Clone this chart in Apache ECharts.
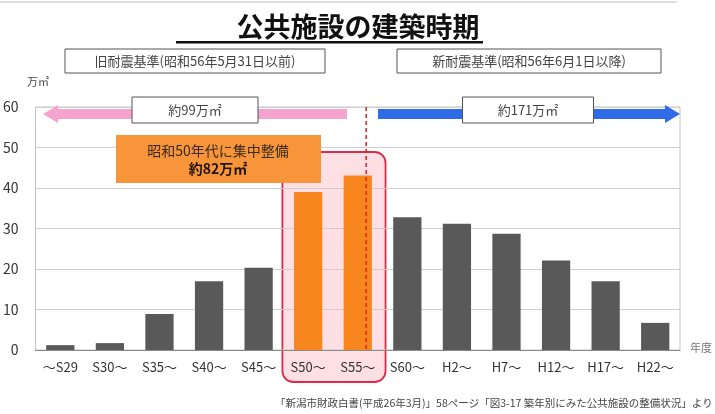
<!DOCTYPE html>
<html lang="ja">
  <head>
    <meta charset="UTF-8" />
    <title>公共施設の建築時期</title>
    <script src="https://cdn.jsdelivr.net/npm/echarts@6/dist/echarts.min.js"></script>
    <style>
      html, body { margin: 0; padding: 0; background: #fff; }
    </style>
  </head>
  <body>
    <div id="main" style="width: 715px; height: 414px"></div>
    <script>
      // 年度区分と延床面積(万㎡)
      const categories = ['～S29', 'S30～', 'S35～', 'S40～', 'S45～', 'S50～', 'S55～', 'S60～', 'H2～', 'H7～', 'H12～', 'H17～', 'H22～']
      const values = [1.2, 1.7, 8.9, 17.0, 20.3, 39.0, 43.1, 32.8, 31.2, 28.7, 22.1, 17.0, 6.7]
      const highlighted = ['S50～', 'S55～']
      const yMin = 0
      const yMax = 60
      const yStep = 10

      const FONT = '"Noto Sans CJK JP", "Noto Sans", sans-serif'
      const GRAY = '#595959'
      const ORANGE = '#F7861F'

      const chart = echarts.init(document.getElementById('main'))

      const option = {
        animation: false,
        textStyle: { fontFamily: FONT },
        grid: {
          left: 35, right: 35, top: 107, bottom: 64,
          show: true, borderColor: '#c4c4c4', borderWidth: 1,
        },
        xAxis: {
          type: 'category',
          data: categories,
          z: 5,
          axisLine: { lineStyle: { color: '#8a8a8a' } },
          axisTick: { inside: true, length: 4, lineStyle: { color: '#8a8a8a' } },
          axisLabel: { color: '#333', fontSize: 13, margin: 11 },
        },
        yAxis: {
          type: 'value',
          min: yMin, max: yMax, interval: yStep,
          axisLine: { show: false },
          axisTick: { show: false },
          axisLabel: { color: '#333', fontSize: 14, margin: 17 },
          splitLine: { lineStyle: { color: '#cfcfcf' } },
        },
        series: [
          {
            type: 'bar',
            barCategoryGap: '43%',
            z: 3,
            data: values.map((v, i) => ({
              value: v,
              itemStyle: { color: highlighted.includes(categories[i]) ? ORANGE : GRAY },
            })),
          },
        ],
      }
      chart.setOption(option)

      // 注釈(位置は軸から求める)
      const x50 = chart.convertToPixel({ xAxisIndex: 0 }, 'S50～')
      const x55 = chart.convertToPixel({ xAxisIndex: 0 }, 'S55～')
      const band = x55 - x50
      const yTop = chart.convertToPixel({ yAxisIndex: 0 }, yMax)
      const yZero = chart.convertToPixel({ yAxisIndex: 0 }, 0)
      const plotRight = 715 - 35
      const arrowY = yTop + 7

      const boxText = (cx, cy, w, h, text) => [
        { type: 'rect', z: 20, shape: { x: cx - w / 2, y: cy - h / 2, width: w, height: h },
          style: { fill: '#fff', stroke: '#555', lineWidth: 1 } },
        { type: 'text', z: 21, x: cx, y: cy,
          style: { text, font: '13px ' + FONT, fill: '#444', align: 'center', verticalAlign: 'middle' } },
      ]

      const graphics = [
        // 上部の区切り線
        { type: 'rect', shape: { x: 0, y: 1, width: 677, height: 2 }, style: { fill: '#dedede' } },
        // タイトル
        { type: 'text', x: 358, y: 27,
          style: { text: '公共施設の建築時期', font: 'bold 27px ' + FONT, fill: '#111', align: 'center', verticalAlign: 'middle' } },
        { type: 'rect', shape: { x: 176, y: 41, width: 307, height: 2.5 }, style: { fill: '#111' } },
        // 基準ラベル
        ...boxText(195, 61, 260, 24, '旧耐震基準(昭和56年5月31日以前)'),
        ...boxText(529, 61, 264, 24, '新耐震基準(昭和56年6月1日以降)'),
        { type: 'text', x: 27, y: 82,
          style: { text: '万㎡', font: '11px ' + FONT, fill: '#444', verticalAlign: 'middle' } },
        { type: 'text', x: 690, y: yZero - 2,
          style: { text: '年度', font: '11px ' + FONT, fill: '#777', verticalAlign: 'middle' } },
        // 集中整備の枠(棒・目盛線の背面)
        { type: 'rect', z: -1,
          shape: { x: x50 - band / 2 - 1, y: 152, width: band * 2 + 4, height: 382 - 152, r: 11 },
          style: { fill: 'rgba(250, 185, 195, 0.45)', stroke: '#DC2A4A', lineWidth: 1.8 } },
        // 昭和56年の境界
        { type: 'line', z: 4,
          shape: { x1: x55 + band * 0.17, y1: yTop, x2: x55 + band * 0.17, y2: yZero },
          style: { stroke: '#E02020', lineWidth: 1.5, lineDash: [4, 3] } },
        // 矢印
        { type: 'polygon', z: 10,
          shape: { points: [[43, arrowY], [58, arrowY - 9], [58, arrowY - 5], [347, arrowY - 5], [347, arrowY + 5], [58, arrowY + 5], [58, arrowY + 9]] },
          style: { fill: '#F5A3CF' } },
        { type: 'polygon', z: 10,
          shape: { points: [[plotRight, arrowY], [plotRight - 15, arrowY - 9], [plotRight - 15, arrowY - 5], [378, arrowY - 5], [378, arrowY + 5], [plotRight - 15, arrowY + 5], [plotRight - 15, arrowY + 9]] },
          style: { fill: '#2F6BE8' } },
        ...boxText(195, 110, 126, 26, '約99万㎡'),
        ...boxText(528, 110, 131, 26, '約171万㎡'),
        // 集中整備の吹き出し
        { type: 'rect', z: 30, shape: { x: 116, y: 135, width: 205, height: 48 }, style: { fill: '#F8953A' } },
        { type: 'text', z: 31, x: 218, y: 151,
          style: { text: '昭和50年代に集中整備', font: '14px ' + FONT, fill: '#3a2a1c', align: 'center', verticalAlign: 'middle' } },
        { type: 'text', z: 31, x: 218, y: 169,
          style: { text: '約82万㎡', font: 'bold 14px ' + FONT, fill: '#1e140c', align: 'center', verticalAlign: 'middle' } },
        // 出典
        { type: 'text', x: 275, y: 403,
          style: { text: '「新潟市財政白書(平成26年3月)」58ページ「図3-17 築年別にみた公共施設の整備状況」より', font: '10.5px ' + FONT, fill: '#444', verticalAlign: 'middle' } },
      ]

      chart.setOption({ graphic: { elements: graphics } })
    </script>
  </body>
</html>
